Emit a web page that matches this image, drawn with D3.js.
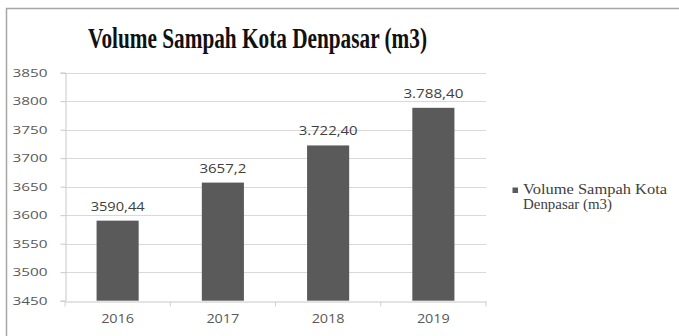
<!DOCTYPE html>
<html>
<head>
<meta charset="utf-8">
<script src="https://cdn.jsdelivr.net/npm/d3@7"></script>
<style>
  body { margin: 0; background: #fff; }
</style>
</head>
<body>
<div id="chart"></div>
<script>
// data
const years = ["2016", "2017", "2018", "2019"]
const volumes = [3590.44, 3657.2, 3722.4, 3788.4]
const valueLabels = ["3590,44", "3657,2", "3.722,40", "3.788,40"]
const yTicks = [3450, 3500, 3550, 3600, 3650, 3700, 3750, 3800, 3850]
const seriesName = "Volume Sampah Kota Denpasar (m3)"

const width = 679, height = 336
const plot = {left: 65, right: 486, top: 72.7, bottom: 300.7}

const svg = d3.select("#chart").append("svg")
    .attr("width", width)
    .attr("height", height)

// chart frame
svg.append("rect")
    .attr("x", 6.5).attr("y", 8.5)
    .attr("width", 700).attr("height", 400)
    .attr("fill", "#fff")
    .attr("stroke", "#a6a6a6")
    .attr("stroke-width", 1.5)

const x = d3.scaleBand()
    .domain(years)
    .range([plot.left, plot.right])
    .paddingInner(0.6)
    .paddingOuter(0.3)

const y = d3.scaleLinear()
    .domain([3450, 3850])
    .range([plot.bottom, plot.top])

// gridlines
svg.append("g")
    .selectAll("line")
    .data(yTicks.slice(1))
    .join("line")
    .attr("x1", plot.left).attr("x2", plot.right)
    .attr("y1", d => Math.round(y(d)) + 0.5).attr("y2", d => Math.round(y(d)) + 0.5)
    .attr("stroke", "#d9d9d9")

// y axis
const yAxis = svg.append("g")
    .attr("transform", `translate(${plot.left + 0.5},0)`)
    .call(d3.axisLeft(y).tickValues(yTicks).tickFormat(d3.format("d")).tickSize(5).tickPadding(13))
yAxis.select(".domain").attr("stroke", "#c8c8c8")
yAxis.selectAll(".tick line").attr("stroke", "#c8c8c8")
yAxis.selectAll(".tick text")
    .attr("fill", "#595959")
    .style("font-family", "Open Sans")
    .style("font-size", "11px")
    .attr("textLength", 35)
    .attr("lengthAdjust", "spacingAndGlyphs")

// x axis
const xAxis = svg.append("g")
    .attr("transform", `translate(0,${Math.round(plot.bottom) + 0.5})`)
    .call(d3.axisBottom(x).tickSize(0).tickPadding(13))
xAxis.select(".domain").attr("stroke", "#c8c8c8")
xAxis.selectAll(".tick text")
    .attr("fill", "#595959")
    .style("font-family", "Open Sans")
    .style("font-size", "12px")
    .attr("textLength", 33)
    .attr("lengthAdjust", "spacingAndGlyphs")

// small separators between categories
const seps = years.map((d, i) => i == 0 ? plot.left : x(d) - x.step() * x.paddingInner() / 2)
seps.push(plot.right)
xAxis.selectAll(".sep")
    .data(seps)
    .join("line")
    .attr("class", "sep")
    .attr("x1", d => d).attr("x2", d => d)
    .attr("y1", 0).attr("y2", 5)
    .attr("stroke", "#d0d0d0")

// bars
svg.append("g")
    .selectAll("rect")
    .data(volumes)
    .join("rect")
    .attr("x", (d, i) => x(years[i]))
    .attr("width", x.bandwidth())
    .attr("y", d => y(d))
    .attr("height", d => y(3450) - y(d))
    .attr("fill", "#5a5a5a")

// value labels
const labelWidths = [54, 47, 59, 60]
svg.append("g")
    .selectAll("text")
    .data(volumes)
    .join("text")
    .attr("x", (d, i) => x(years[i]) + x.bandwidth() / 2)
    .attr("y", d => y(d) - 10)
    .attr("text-anchor", "middle")
    .attr("fill", "#404040")
    .style("font-family", "Open Sans")
    .style("font-size", "12px")
    .attr("textLength", (d, i) => labelWidths[i])
    .attr("lengthAdjust", "spacingAndGlyphs")
    .text((d, i) => valueLabels[i])

// title
svg.append("text")
    .attr("x", 88).attr("y", 48)
    .attr("fill", "#111")
    .style("font-family", "Liberation Serif")
    .style("font-weight", "bold")
    .style("font-size", "29px")
    .attr("textLength", 339)
    .attr("lengthAdjust", "spacingAndGlyphs")
    .text(seriesName)

// legend
const legend = svg.append("g")
legend.append("rect")
    .attr("x", 512.5).attr("y", 187.5)
    .attr("width", 5.5).attr("height", 5.5)
    .attr("fill", "#5a5a5a")
legend.append("text")
    .attr("x", 523).attr("y", 194)
    .attr("fill", "#404040")
    .style("font-family", "Liberation Serif")
    .style("font-size", "14px")
    .attr("textLength", 144)
    .attr("lengthAdjust", "spacingAndGlyphs")
    .text("Volume Sampah Kota")
legend.append("text")
    .attr("x", 523).attr("y", 209)
    .attr("fill", "#404040")
    .style("font-family", "Liberation Serif")
    .style("font-size", "14px")
    .attr("textLength", 89)
    .attr("lengthAdjust", "spacingAndGlyphs")
    .text("Denpasar (m3)")
</script>
</body>
</html>
